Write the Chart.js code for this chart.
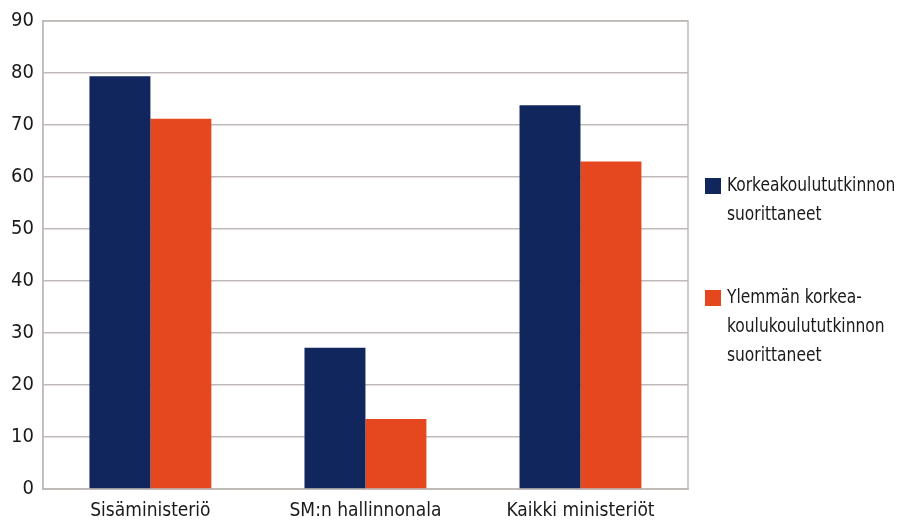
<!DOCTYPE html>
<html>
<head>
<meta charset="utf-8">
<script src="https://cdn.jsdelivr.net/npm/chart.js@4/dist/chart.umd.min.js"></script>
<style>
  html, body { margin: 0; padding: 0; background: #fff; }
  #wrap { width: 900px; height: 521px; }
</style>
</head>
<body>
<div id="wrap"><canvas id="chart"></canvas></div>
<script>
const categories = ["Sisäministeriö", "SM:n hallinnonala", "Kaikki ministeriöt"];
const korkeakoulu = [79.4, 27.2, 73.8];
const ylempi = [71.2, 13.5, 63.0];
const seriesLabels = [
  ["Korkeakoulututkinnon", "suorittaneet"],
  ["Ylemmän korkea-", "koulukoulututkinnon", "suorittaneet"]
];
const seriesColors = ["#12265e", "#e5481e"];

const FONT = "'Liberation Sans Narrow', 'DejaVu Sans Condensed', 'Open Sans', sans-serif";
const GRID = "#bfbab7";

// frame around the plot area + wrapped legend on the right
const framePlugin = {
  id: "frame",
  afterDraw(chart) {
    const { ctx, chartArea } = chart;
    ctx.save();
    ctx.strokeStyle = GRID;
    ctx.lineWidth = 1.5;
    ctx.strokeRect(chartArea.left, chartArea.top, chartArea.right - chartArea.left, chartArea.bottom - chartArea.top);

    ctx.textBaseline = "middle";
    const starts = [186, 298];
    chart.data.datasets.forEach((ds, i) => {
      const y0 = starts[i];
      ctx.fillStyle = ds.backgroundColor;
      ctx.fillRect(705, y0 - 8, 16, 16);
      ctx.fillStyle = "#1a1a1a";
      seriesLabels[i].forEach((line, j) => {
        ctx.save();
        ctx.translate(727, y0 + j * 29);
        ctx.scale(0.86, 1);
        ctx.font = "20px " + FONT;
        ctx.fillText(line, 0, 0);
        ctx.restore();
      });
    });
    ctx.restore();
  }
};

new Chart(document.getElementById("chart"), {
  type: "bar",
  data: {
    labels: categories,
    datasets: [
      { label: seriesLabels[0].join(" "), data: korkeakoulu, backgroundColor: seriesColors[0] },
      { label: seriesLabels[1].join(" "), data: ylempi, backgroundColor: seriesColors[1] }
    ]
  },
  options: {
    responsive: true,
    maintainAspectRatio: false,
    animation: false,
    layout: { padding: { top: 12, right: 212, left: 2, bottom: -11 } },
    datasets: {
      bar: { barPercentage: 1, categoryPercentage: 0.567 }
    },
    plugins: {
      legend: { display: false },
      tooltip: { enabled: false }
    },
    scales: {
      x: {
        grid: { display: false, drawTicks: false },
        border: { color: GRID, width: 1.5 },
        ticks: { color: "#1a1a1a", font: { family: FONT, size: 19 }, padding: 10 }
      },
      y: {
        min: 0,
        max: 90,
        ticks: { stepSize: 10, color: "#1a1a1a", font: { family: FONT, size: 20 }, padding: 9 },
        grid: { color: GRID, lineWidth: 1.5, drawTicks: false },
        border: { color: GRID, width: 1.5 }
      }
    }
  },
  plugins: [framePlugin]
});
</script>
</body>
</html>
